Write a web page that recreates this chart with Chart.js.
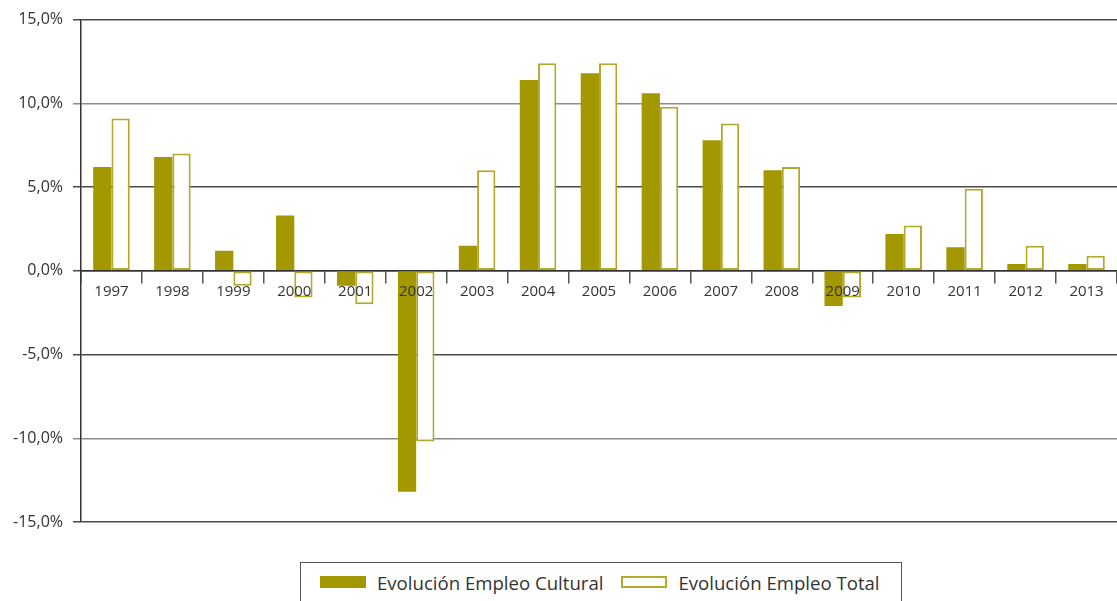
<!DOCTYPE html>
<html>
<head>
<meta charset="utf-8">
<script src="https://cdn.jsdelivr.net/npm/chart.js@4.4.1/dist/chart.umd.min.js"></script>
<style>
    body {
        margin: 0;
        background: #fff;
        width: 1117px;
        height: 601px;
        overflow: hidden;
        position: relative;
        font-family: "Open Sans", sans-serif;
    }
    #wrap {
        position: absolute;
        left: 0;
        top: 0;
        width: 1117px;
        height: 545px;
    }
    #legend {
        position: absolute;
        left: 300px;
        top: 562px;
        width: 602px;
        height: 50px;
        border: 1px solid #555;
        box-sizing: border-box;
        display: flex;
        align-items: center;
        padding: 0 0 10px 19px;
        color: #333;
        font-size: 18.6px;
    }
    .item { display: flex; align-items: center; margin-right: 18px; }
    .swatch { width: 46px; height: 12px; box-sizing: border-box; margin-right: 11px; }
</style>
</head>
<body>
<div id="wrap"><canvas id="bar-chart"></canvas></div>
<div id="legend"></div>
<script>
const years = ['1997', '1998', '1999', '2000', '2001', '2002', '2003', '2004', '2005',
    '2006', '2007', '2008', '2009', '2010', '2011', '2012', '2013'];
const empleoCultural = [6.2, 6.8, 1.2, 3.3, -0.9, -13.2, 1.5, 11.4, 11.8, 10.6, 7.8, 6.0, -2.1, 2.2, 1.4, 0.4, 0.4];
const empleoTotal = [9.1, 7.0, -0.9, -1.6, -2.0, -10.2, 6.0, 12.4, 12.4, 9.8, 8.8, 6.2, -1.6, 2.7, 4.9, 1.5, 0.9];
const yTicks = [-15, -10, -5, 0, 5, 10, 15];
const seriesLabels = ['Evolución Empleo Cultural', 'Evolución Empleo Total'];

const olive = '#a39800';
const oliveLight = '#b3a92c';

function pct(v) {
    return v.toFixed(1).replace('.', ',') + '%';
}

// grid colours: axis and outer lines dark, inner lines grey
function gridColor(ctx) {
    let v = ctx.tick ? ctx.tick.value : 0;
    if (v === 10 || v === -10) return '#8c8c8c';
    return '#4a4a4a';
}

let options = {
    type: 'bar',
    data: {
        labels: years,
        datasets: [{
            label: seriesLabels[0],
            data: empleoCultural,
            backgroundColor: olive,
            borderWidth: 0
        }, {
            label: seriesLabels[1],
            data: empleoTotal,
            backgroundColor: '#ffffff',
            borderColor: oliveLight,
            borderWidth: 2,
            borderSkipped: false
        }]
    },
    options: {
        responsive: true,
        maintainAspectRatio: false,
        animation: false,
        layout: { padding: { top: 17, right: 0, bottom: 23, left: 0 } },
        datasets: {
            bar: { categoryPercentage: 0.6, barPercentage: 1.0 }
        },
        plugins: {
            legend: { display: false },
            tooltip: { enabled: false }
        },
        scales: {
            x: {
                position: { y: 0 },
                grid: {
                    offset: true,
                    drawOnChartArea: false,
                    drawTicks: true,
                    tickLength: 12,
                    color: '#555',
                    lineWidth: 1.5
                },
                border: { display: true, color: '#333', width: 1.5 },
                ticks: {
                    z: 1, // year labels sit on top of the negative bars
                    color: '#333',
                    padding: 0,
                    maxRotation: 0,
                    autoSkip: false,
                    font: { family: 'Open Sans', size: 15 }
                }
            },
            y: {
                min: -15,
                max: 15,
                afterBuildTicks: (scale) => {
                    scale.ticks = yTicks.map(v => ({ value: v }));
                },
                afterFit: (scale) => {
                    scale.width = 81;
                },
                grid: {
                    color: gridColor,
                    lineWidth: 1.5,
                    drawTicks: true,
                    tickLength: 8
                },
                border: { display: true, color: '#333', width: 1.5 },
                ticks: {
                    color: '#333',
                    padding: 10,
                    font: { family: 'Open Sans', size: 16 },
                    callback: (v) => pct(v)
                }
            }
        }
    }
};

let chart = new Chart(document.getElementById('bar-chart'), options);

// legend with a frame, built from the datasets
let legend = document.getElementById('legend');
chart.data.datasets.forEach((ds) => {
    let item = document.createElement('div');
    item.className = 'item';
    let sw = document.createElement('span');
    sw.className = 'swatch';
    sw.style.background = ds.backgroundColor;
    if (ds.borderWidth) sw.style.border = `2px solid ${ds.borderColor}`;
    let txt = document.createElement('span');
    txt.textContent = ds.label;
    item.appendChild(sw);
    item.appendChild(txt);
    legend.appendChild(item);
});
</script>
</body>
</html>
